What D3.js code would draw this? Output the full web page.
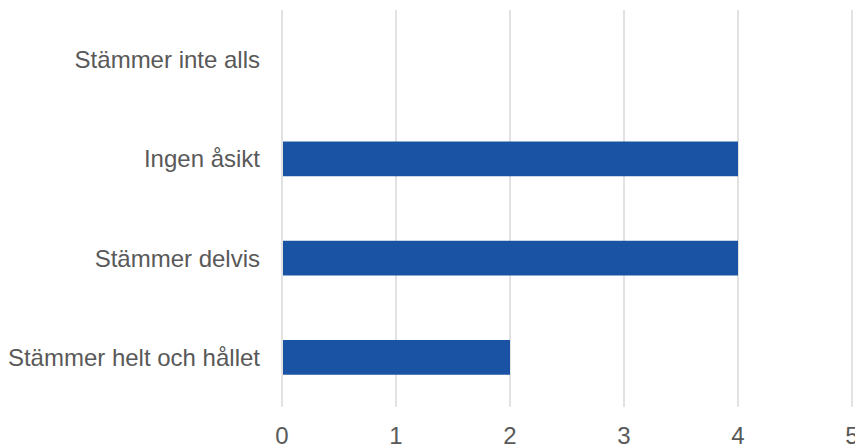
<!DOCTYPE html>
<html>
<head>
<meta charset="utf-8">
<script src="https://cdn.jsdelivr.net/npm/d3@7"></script>
<style>
  body { margin: 0; background: #fff; }
  svg { display: block; font-family: "Liberation Sans", Arial, sans-serif; }
  .grid line { stroke: #d9d9d9; stroke-width: 1.5; }
  .lbl { fill: #595959; font-size: 24px; }
</style>
</head>
<body>
<script>
// categories top to bottom, with their counts
var categories = ["Stämmer inte alls", "Ingen åsikt", "Stämmer delvis", "Stämmer helt och hållet"];
var values = [0, 4, 4, 2];
var xTicks = [0, 1, 2, 3, 4, 5];

var width = 855, height = 445;
var plot = {left: 282, right: 852, top: 10, bottom: 407};

var svg = d3.select("body").append("svg")
    .attr("width", width)
    .attr("height", height);

var x = d3.scaleLinear()
    .domain([0, 5])
    .range([plot.left, plot.right]);

var y = d3.scaleBand()
    .domain(categories)
    .range([plot.top, plot.bottom])
    .paddingInner(0.65)
    .paddingOuter(0.325);

// vertical gridlines
svg.append("g")
    .attr("class", "grid")
  .selectAll("line")
  .data(xTicks)
  .enter().append("line")
    .attr("x1", function(d) { return x(d); })
    .attr("x2", function(d) { return x(d); })
    .attr("y1", plot.top)
    .attr("y2", plot.bottom);

// bars
svg.append("g")
  .selectAll("rect")
  .data(categories)
  .enter().append("rect")
    .attr("x", x(0) + 1)
    .attr("y", function(d) { return y(d); })
    .attr("width", function(d, i) { return Math.max(0, x(values[i]) - x(0) - 1); })
    .attr("height", y.bandwidth())
    .attr("fill", "#1a53a3");

// category labels
svg.append("g")
  .selectAll("text")
  .data(categories)
  .enter().append("text")
    .attr("class", "lbl")
    .attr("x", 260)
    .attr("y", function(d) { return y(d) + y.bandwidth() / 2; })
    .attr("dy", "0.35em")
    .attr("text-anchor", "end")
    .text(function(d) { return d; });

// x tick labels
svg.append("g")
  .selectAll("text")
  .data(xTicks)
  .enter().append("text")
    .attr("class", "lbl")
    .attr("x", function(d) { return x(d); })
    .attr("y", 444)
    .attr("text-anchor", "middle")
    .text(function(d) { return d; });
</script>
</body>
</html>
